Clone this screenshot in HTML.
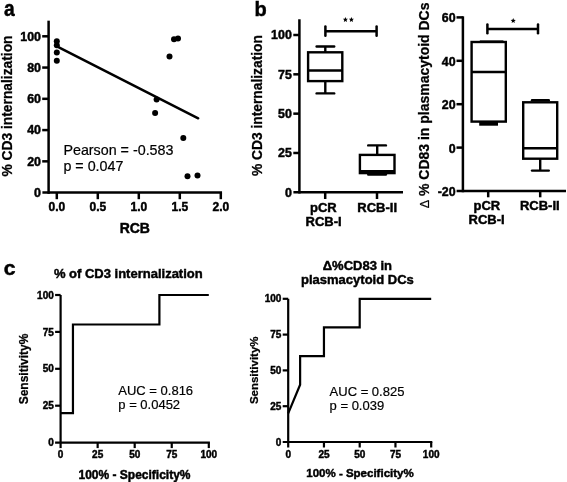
<!DOCTYPE html>
<html><head><meta charset="utf-8"><style>
html,body{margin:0;padding:0;background:#fff;}
svg{display:block;}
text{font-family:"Liberation Sans",sans-serif;fill:#000;stroke:none;}
text[font-weight="bold"]{stroke:#000;stroke-width:0.45px;}
text[font-weight="normal"]{stroke:#000;stroke-width:0.2px;}
text.yl{stroke-width:0.25px;}
tspan{stroke-width:0.2px;}
svg{will-change:transform;}
</style></head><body>
<svg width="567" height="482" viewBox="0 0 567 482" stroke="#000">
<rect x="0" y="0" width="567" height="482" fill="#fff" stroke="none"/>
<text x="0" y="0" font-size="20" font-weight="bold" text-anchor="start" transform="translate(3.90 16.30) scale(0.96 1.08)">a</text>
<line x1="48.60" y1="20.67" x2="48.60" y2="193.85" stroke-width="2.5" stroke-linecap="butt"/>
<line x1="42.40" y1="192.60" x2="222.05" y2="192.60" stroke-width="2.5" stroke-linecap="butt"/>
<line x1="42.20" y1="161.34" x2="48.60" y2="161.34" stroke-width="2.5" stroke-linecap="butt"/>
<line x1="42.20" y1="130.08" x2="48.60" y2="130.08" stroke-width="2.5" stroke-linecap="butt"/>
<line x1="42.20" y1="98.82" x2="48.60" y2="98.82" stroke-width="2.5" stroke-linecap="butt"/>
<line x1="42.20" y1="67.56" x2="48.60" y2="67.56" stroke-width="2.5" stroke-linecap="butt"/>
<line x1="42.20" y1="36.30" x2="48.60" y2="36.30" stroke-width="2.5" stroke-linecap="butt"/>
<text x="41.00" y="197.00" font-size="12.4" font-weight="bold" text-anchor="end">0</text>
<text x="41.00" y="165.74" font-size="12.4" font-weight="bold" text-anchor="end">20</text>
<text x="41.00" y="134.48" font-size="12.4" font-weight="bold" text-anchor="end">40</text>
<text x="41.00" y="103.22" font-size="12.4" font-weight="bold" text-anchor="end">60</text>
<text x="41.00" y="71.96" font-size="12.4" font-weight="bold" text-anchor="end">80</text>
<text x="41.00" y="40.70" font-size="12.4" font-weight="bold" text-anchor="end">100</text>
<line x1="56.80" y1="192.60" x2="56.80" y2="199.20" stroke-width="2.5" stroke-linecap="butt"/>
<text x="56.80" y="211.20" font-size="12" font-weight="bold" text-anchor="middle">0.0</text>
<line x1="97.80" y1="192.60" x2="97.80" y2="199.20" stroke-width="2.5" stroke-linecap="butt"/>
<text x="97.80" y="211.20" font-size="12" font-weight="bold" text-anchor="middle">0.5</text>
<line x1="138.80" y1="192.60" x2="138.80" y2="199.20" stroke-width="2.5" stroke-linecap="butt"/>
<text x="138.80" y="211.20" font-size="12" font-weight="bold" text-anchor="middle">1.0</text>
<line x1="179.80" y1="192.60" x2="179.80" y2="199.20" stroke-width="2.5" stroke-linecap="butt"/>
<text x="179.80" y="211.20" font-size="12" font-weight="bold" text-anchor="middle">1.5</text>
<line x1="220.80" y1="192.60" x2="220.80" y2="199.20" stroke-width="2.5" stroke-linecap="butt"/>
<text x="220.80" y="211.20" font-size="12" font-weight="bold" text-anchor="middle">2.0</text>
<text x="134.80" y="232.90" font-size="14" font-weight="bold" text-anchor="middle">RCB</text>
<text x="0" y="0" font-size="13.8" font-weight="bold" text-anchor="middle" transform="translate(11.90 106.00) rotate(-90) scale(1 1.07)" class="yl">% CD3 internalization</text>
<line x1="57.40" y1="46.62" x2="198.20" y2="118.28" stroke-width="2.5" stroke-linecap="round"/>
<circle cx="56.80" cy="41.20" r="3.0" stroke="none" fill="#000"/>
<circle cx="56.80" cy="45.30" r="3.0" stroke="none" fill="#000"/>
<circle cx="56.80" cy="52.50" r="3.0" stroke="none" fill="#000"/>
<circle cx="56.80" cy="60.85" r="3.0" stroke="none" fill="#000"/>
<circle cx="174.00" cy="39.30" r="3.0" stroke="none" fill="#000"/>
<circle cx="178.00" cy="38.60" r="3.0" stroke="none" fill="#000"/>
<circle cx="169.50" cy="56.50" r="3.0" stroke="none" fill="#000"/>
<circle cx="156.60" cy="99.40" r="3.0" stroke="none" fill="#000"/>
<circle cx="155.10" cy="112.90" r="3.0" stroke="none" fill="#000"/>
<circle cx="183.30" cy="138.00" r="3.0" stroke="none" fill="#000"/>
<circle cx="187.50" cy="176.20" r="3.0" stroke="none" fill="#000"/>
<circle cx="197.50" cy="175.60" r="3.0" stroke="none" fill="#000"/>
<text x="63.40" y="154.80" font-size="14.3" font-weight="normal" text-anchor="start">Pearson = -0.583</text>
<text x="63.40" y="171.40" font-size="14.3" font-weight="normal" text-anchor="start">p = 0.047</text>
<text x="254.60" y="15.70" font-size="20" font-weight="bold" text-anchor="start">b</text>
<line x1="299.40" y1="19.27" x2="299.40" y2="193.55" stroke-width="2.5" stroke-linecap="butt"/>
<line x1="293.40" y1="192.30" x2="403.00" y2="192.30" stroke-width="2.5" stroke-linecap="butt"/>
<line x1="293.30" y1="152.98" x2="299.40" y2="152.98" stroke-width="2.5" stroke-linecap="butt"/>
<line x1="293.30" y1="113.65" x2="299.40" y2="113.65" stroke-width="2.5" stroke-linecap="butt"/>
<line x1="293.30" y1="74.33" x2="299.40" y2="74.33" stroke-width="2.5" stroke-linecap="butt"/>
<line x1="293.30" y1="35.00" x2="299.40" y2="35.00" stroke-width="2.5" stroke-linecap="butt"/>
<text x="291.80" y="196.70" font-size="12.4" font-weight="bold" text-anchor="end">0</text>
<text x="291.80" y="157.38" font-size="12.4" font-weight="bold" text-anchor="end">25</text>
<text x="291.80" y="118.05" font-size="12.4" font-weight="bold" text-anchor="end">50</text>
<text x="291.80" y="78.73" font-size="12.4" font-weight="bold" text-anchor="end">75</text>
<text x="291.80" y="39.40" font-size="12.4" font-weight="bold" text-anchor="end">100</text>
<line x1="325.20" y1="192.30" x2="325.20" y2="199.00" stroke-width="2.5" stroke-linecap="butt"/>
<line x1="377.00" y1="192.30" x2="377.00" y2="199.00" stroke-width="2.5" stroke-linecap="butt"/>
<text x="323.40" y="211.60" font-size="13" font-weight="bold" text-anchor="middle">pCR</text>
<text x="323.60" y="226.10" font-size="13" font-weight="bold" text-anchor="middle">RCB-I</text>
<text x="377.20" y="211.60" font-size="13" font-weight="bold" text-anchor="middle">RCB-II</text>
<text x="0" y="0" font-size="13.8" font-weight="bold" text-anchor="middle" transform="translate(261.80 105.60) rotate(-90) scale(1 1.07)" class="yl">% CD3 internalization</text>
<rect x="308.1" y="52.3" width="34.2" height="28.8" fill="none" stroke-width="2.4"/>
<line x1="308.10" y1="70.50" x2="342.30" y2="70.50" stroke-width="2.4" stroke-linecap="butt"/>
<line x1="325.30" y1="46.50" x2="325.30" y2="52.30" stroke-width="2.4" stroke-linecap="butt"/>
<line x1="316.60" y1="46.50" x2="334.20" y2="46.50" stroke-width="2.4" stroke-linecap="round"/>
<line x1="325.30" y1="81.10" x2="325.30" y2="93.40" stroke-width="2.4" stroke-linecap="butt"/>
<line x1="316.60" y1="93.40" x2="334.20" y2="93.40" stroke-width="2.4" stroke-linecap="round"/>
<rect x="359.9" y="154.9" width="34.6" height="18.2" fill="none" stroke-width="2.4"/>
<line x1="359.90" y1="171.20" x2="394.50" y2="171.20" stroke-width="2.4" stroke-linecap="butt"/>
<line x1="377.20" y1="145.40" x2="377.20" y2="154.90" stroke-width="2.4" stroke-linecap="butt"/>
<line x1="368.20" y1="145.40" x2="385.90" y2="145.40" stroke-width="2.4" stroke-linecap="round"/>
<line x1="368.20" y1="174.60" x2="385.90" y2="174.60" stroke-width="2.4" stroke-linecap="round"/>
<line x1="325.40" y1="31.20" x2="376.60" y2="31.20" stroke-width="2.5" stroke-linecap="butt"/>
<line x1="325.40" y1="26.60" x2="325.40" y2="35.70" stroke-width="2.5" stroke-linecap="round"/>
<line x1="376.60" y1="26.60" x2="376.60" y2="35.70" stroke-width="2.5" stroke-linecap="round"/>
<polygon points="345.40,17.00 346.11,18.72 347.97,18.87 346.56,20.08 346.99,21.88 345.40,20.91 343.81,21.88 344.24,20.08 342.83,18.87 344.69,18.72" stroke="none" fill="#000"/>
<polygon points="351.40,17.00 352.11,18.72 353.97,18.87 352.56,20.08 352.99,21.88 351.40,20.91 349.81,21.88 350.24,20.08 348.83,18.87 350.69,18.72" stroke="none" fill="#000"/>
<line x1="462.90" y1="16.30" x2="462.90" y2="192.25" stroke-width="2.5" stroke-linecap="butt"/>
<line x1="456.60" y1="191.00" x2="566.00" y2="191.00" stroke-width="2.5" stroke-linecap="butt"/>
<line x1="456.50" y1="17.40" x2="462.90" y2="17.40" stroke-width="2.5" stroke-linecap="butt"/>
<line x1="456.50" y1="60.80" x2="462.90" y2="60.80" stroke-width="2.5" stroke-linecap="butt"/>
<line x1="456.50" y1="104.20" x2="462.90" y2="104.20" stroke-width="2.5" stroke-linecap="butt"/>
<line x1="456.50" y1="147.60" x2="462.90" y2="147.60" stroke-width="2.5" stroke-linecap="butt"/>
<text x="455.60" y="22.30" font-size="12.4" font-weight="bold" text-anchor="end">60</text>
<text x="455.60" y="65.70" font-size="12.4" font-weight="bold" text-anchor="end">40</text>
<text x="455.60" y="109.10" font-size="12.4" font-weight="bold" text-anchor="end">20</text>
<text x="455.60" y="152.50" font-size="12.4" font-weight="bold" text-anchor="end">0</text>
<text x="455.60" y="195.90" font-size="12.4" font-weight="bold" text-anchor="end">-20</text>
<line x1="488.20" y1="191.00" x2="488.20" y2="197.30" stroke-width="2.5" stroke-linecap="butt"/>
<line x1="540.20" y1="191.00" x2="540.20" y2="197.30" stroke-width="2.5" stroke-linecap="butt"/>
<text x="486.90" y="209.50" font-size="13" font-weight="bold" text-anchor="middle">pCR</text>
<text x="486.60" y="224.30" font-size="13" font-weight="bold" text-anchor="middle">RCB-I</text>
<text x="539.80" y="209.50" font-size="13" font-weight="bold" text-anchor="middle">RCB-II</text>
<text x="0" y="0" font-size="14" font-weight="bold" text-anchor="middle" transform="translate(428.80 105.40) rotate(-90) scale(1 1.07)" class="yl"><tspan font-weight="normal" font-size="12.5">Δ</tspan> % CD83 in plasmacytoid DCs</text>
<rect x="471.6" y="42.0" width="34.2" height="79.6" fill="none" stroke-width="2.4"/>
<line x1="471.60" y1="72.00" x2="505.80" y2="72.00" stroke-width="2.4" stroke-linecap="butt"/>
<line x1="479.80" y1="41.60" x2="503.40" y2="41.60" stroke-width="2.4" stroke-linecap="butt"/>
<rect x="479.2" y="121.8" width="18.8" height="3.9" stroke="none" fill="#000"/>
<rect x="523.2" y="102.3" width="34.0" height="56.4" fill="none" stroke-width="2.4"/>
<line x1="523.20" y1="148.20" x2="557.20" y2="148.20" stroke-width="2.4" stroke-linecap="butt"/>
<line x1="532.00" y1="100.20" x2="548.80" y2="100.20" stroke-width="2.4" stroke-linecap="round"/>
<line x1="540.20" y1="158.70" x2="540.20" y2="170.60" stroke-width="2.4" stroke-linecap="butt"/>
<line x1="532.00" y1="170.60" x2="548.80" y2="170.60" stroke-width="2.4" stroke-linecap="round"/>
<line x1="487.40" y1="28.90" x2="538.00" y2="28.90" stroke-width="2.5" stroke-linecap="butt"/>
<line x1="487.40" y1="24.50" x2="487.40" y2="33.20" stroke-width="2.5" stroke-linecap="round"/>
<line x1="538.00" y1="24.50" x2="538.00" y2="33.20" stroke-width="2.5" stroke-linecap="round"/>
<polygon points="513.20,18.10 513.91,19.82 515.77,19.97 514.36,21.18 514.79,22.98 513.20,22.02 511.61,22.98 512.04,21.18 510.63,19.97 512.49,19.82" stroke="none" fill="#000"/>
<text x="0" y="0" font-size="20" font-weight="bold" text-anchor="start" transform="translate(3.70 275.10) scale(1.06 1.02)">c</text>
<line x1="60.60" y1="295.00" x2="60.60" y2="448.10" stroke-width="2.2" stroke-linecap="butt"/>
<line x1="55.10" y1="442.60" x2="209.90" y2="442.60" stroke-width="2.2" stroke-linecap="butt"/>
<line x1="55.10" y1="405.70" x2="60.60" y2="405.70" stroke-width="2.2" stroke-linecap="butt"/>
<line x1="97.65" y1="442.60" x2="97.65" y2="448.10" stroke-width="2.2" stroke-linecap="butt"/>
<line x1="55.10" y1="368.80" x2="60.60" y2="368.80" stroke-width="2.2" stroke-linecap="butt"/>
<line x1="134.70" y1="442.60" x2="134.70" y2="448.10" stroke-width="2.2" stroke-linecap="butt"/>
<line x1="55.10" y1="331.90" x2="60.60" y2="331.90" stroke-width="2.2" stroke-linecap="butt"/>
<line x1="171.75" y1="442.60" x2="171.75" y2="448.10" stroke-width="2.2" stroke-linecap="butt"/>
<line x1="55.10" y1="295.00" x2="60.60" y2="295.00" stroke-width="2.2" stroke-linecap="butt"/>
<line x1="208.80" y1="442.60" x2="208.80" y2="448.10" stroke-width="2.2" stroke-linecap="butt"/>
<text x="53.80" y="446.20" font-size="10" font-weight="bold" text-anchor="end">0</text>
<text x="60.60" y="458.20" font-size="10" font-weight="bold" text-anchor="middle">0</text>
<text x="53.80" y="409.30" font-size="10" font-weight="bold" text-anchor="end">25</text>
<text x="97.65" y="458.20" font-size="10" font-weight="bold" text-anchor="middle">25</text>
<text x="53.80" y="372.40" font-size="10" font-weight="bold" text-anchor="end">50</text>
<text x="134.70" y="458.20" font-size="10" font-weight="bold" text-anchor="middle">50</text>
<text x="53.80" y="335.50" font-size="10" font-weight="bold" text-anchor="end">75</text>
<text x="171.75" y="458.20" font-size="10" font-weight="bold" text-anchor="middle">75</text>
<text x="53.80" y="298.60" font-size="10" font-weight="bold" text-anchor="end">100</text>
<text x="208.80" y="458.20" font-size="10" font-weight="bold" text-anchor="middle">100</text>
<path d="M60.60,413.08 L72.95,413.08 L72.95,324.52 L159.40,324.52 L159.40,295.00 L208.80,295.00" fill="none" stroke-width="2.2" stroke-linejoin="miter"/>
<text x="128.30" y="278.20" font-size="13" font-weight="bold" text-anchor="middle">% of CD3 internalization</text>
<text x="118.30" y="394.60" font-size="13" font-weight="normal" text-anchor="start">AUC = 0.816</text>
<text x="118.30" y="409.40" font-size="13" font-weight="normal" text-anchor="start">p = 0.0452</text>
<text x="0" y="0" font-size="12" font-weight="bold" text-anchor="middle" transform="translate(28.10 369.00) rotate(-90) scale(1 1.05)" class="yl">Sensitivity%</text>
<text x="134.50" y="478.60" font-size="12" font-weight="bold" text-anchor="middle">100% - Specificity%</text>
<line x1="288.20" y1="298.80" x2="288.20" y2="447.50" stroke-width="2.2" stroke-linecap="butt"/>
<line x1="282.70" y1="442.00" x2="432.30" y2="442.00" stroke-width="2.2" stroke-linecap="butt"/>
<line x1="282.70" y1="406.20" x2="288.20" y2="406.20" stroke-width="2.2" stroke-linecap="butt"/>
<line x1="323.95" y1="442.00" x2="323.95" y2="447.50" stroke-width="2.2" stroke-linecap="butt"/>
<line x1="282.70" y1="370.40" x2="288.20" y2="370.40" stroke-width="2.2" stroke-linecap="butt"/>
<line x1="359.70" y1="442.00" x2="359.70" y2="447.50" stroke-width="2.2" stroke-linecap="butt"/>
<line x1="282.70" y1="334.60" x2="288.20" y2="334.60" stroke-width="2.2" stroke-linecap="butt"/>
<line x1="395.45" y1="442.00" x2="395.45" y2="447.50" stroke-width="2.2" stroke-linecap="butt"/>
<line x1="282.70" y1="298.80" x2="288.20" y2="298.80" stroke-width="2.2" stroke-linecap="butt"/>
<line x1="431.20" y1="442.00" x2="431.20" y2="447.50" stroke-width="2.2" stroke-linecap="butt"/>
<text x="281.40" y="445.60" font-size="10" font-weight="bold" text-anchor="end">0</text>
<text x="288.20" y="457.60" font-size="10" font-weight="bold" text-anchor="middle">0</text>
<text x="281.40" y="409.80" font-size="10" font-weight="bold" text-anchor="end">25</text>
<text x="323.95" y="457.60" font-size="10" font-weight="bold" text-anchor="middle">25</text>
<text x="281.40" y="374.00" font-size="10" font-weight="bold" text-anchor="end">50</text>
<text x="359.70" y="457.60" font-size="10" font-weight="bold" text-anchor="middle">50</text>
<text x="281.40" y="338.20" font-size="10" font-weight="bold" text-anchor="end">75</text>
<text x="395.45" y="457.60" font-size="10" font-weight="bold" text-anchor="middle">75</text>
<text x="281.40" y="302.40" font-size="10" font-weight="bold" text-anchor="end">100</text>
<text x="431.20" y="457.60" font-size="10" font-weight="bold" text-anchor="middle">100</text>
<path d="M288.20,413.36 L300.12,384.72 L300.12,356.08 L323.95,356.08 L323.95,327.44 L359.70,327.44 L359.70,298.80 L431.20,298.80" fill="none" stroke-width="2.2" stroke-linejoin="miter"/>
<text x="357.40" y="269.60" font-size="13" font-weight="bold" text-anchor="middle">Δ%CD83 in</text>
<text x="357.40" y="284.40" font-size="13" font-weight="bold" text-anchor="middle">plasmacytoid DCs</text>
<text x="329.60" y="395.60" font-size="13" font-weight="normal" text-anchor="start">AUC = 0.825</text>
<text x="329.60" y="410.40" font-size="13" font-weight="normal" text-anchor="start">p = 0.039</text>
<text x="0" y="0" font-size="11.5" font-weight="bold" text-anchor="middle" transform="translate(257.70 370.30) rotate(-90) scale(1 1.03)" class="yl">Sensitivity%</text>
<text x="360.00" y="477.00" font-size="11.5" font-weight="bold" text-anchor="middle">100% - Specificity%</text>
</svg>
</body></html>
